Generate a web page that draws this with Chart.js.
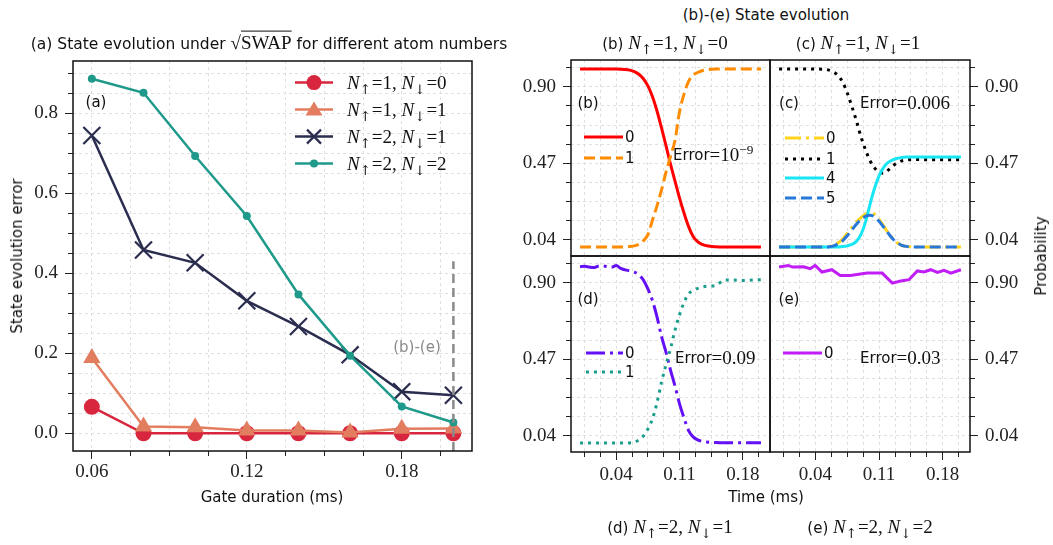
<!DOCTYPE html>
<html>
<head>
<meta charset="utf-8">
<script src="https://cdn.jsdelivr.net/npm/chart.js@4.4.1/dist/chart.umd.min.js"></script>
<style>
  body { margin: 0; background: #fff; }
  #page { position: relative; width: 1053px; height: 545px; overflow: hidden; background: #fff; }
  canvas { position: absolute; }
  .t { position: absolute; white-space: nowrap; transform: translate(-50%, -50%); font-family: 'DejaVu Sans', sans-serif; font-size: 15px; color: #111; line-height: 1.2; }
  .l { transform: translate(0, -50%); display: flex; align-items: center; }
  .rot { transform: translate(-50%, -50%) rotate(-90deg); }
  .m { font-family: 'Liberation Serif', serif; font-size: 19px; }
  .m sub { font-family: 'DejaVu Serif', serif; font-size: 0.7em; vertical-align: -0.35em; line-height: 0; margin-right: 1px; }
  .m sup { font-size: 0.7em; vertical-align: 0.5em; line-height: 0; }
  .ov { text-decoration: overline; }
  .gray { color: #8a8a8a; }
</style>
</head>
<body>
<div id="page">
  <canvas id="chartA" width="500" height="545" style="left:0;top:0"></canvas>
  <canvas id="chartB" width="330" height="260" style="left:470px;top:30px"></canvas>
  <canvas id="chartC" width="330" height="260" style="left:740px;top:30px"></canvas>
  <canvas id="chartD" width="330" height="289" style="left:470px;top:226px"></canvas>
  <canvas id="chartE" width="330" height="289" style="left:740px;top:226px"></canvas>

  <!-- titles and axis labels -->
  <div class="t" style="left:269px;top:43px;font-size:15.5px">(a) State evolution under <span class="m">√<span class="ov">SWAP</span></span> for different atom numbers</div>
  <div class="t" style="left:766px;top:15px">(b)-(e) State evolution</div>
  <div class="t" style="left:665px;top:43px">(b) <span class="m"><i>N</i><sub>↑</sub>=1, <i>N</i><sub>↓</sub>=0</span></div>
  <div class="t" style="left:858px;top:43px">(c) <span class="m"><i>N</i><sub>↑</sub>=1, <i>N</i><sub>↓</sub>=1</span></div>
  <div class="t" style="left:670px;top:527px">(d) <span class="m"><i>N</i><sub>↑</sub>=2, <i>N</i><sub>↓</sub>=1</span></div>
  <div class="t" style="left:870px;top:527px">(e) <span class="m"><i>N</i><sub>↑</sub>=2, <i>N</i><sub>↓</sub>=2</span></div>
  <div class="t" style="left:272px;top:497px">Gate duration (ms)</div>
  <div class="t" style="left:766px;top:497px">Time (ms)</div>
  <div class="t rot" style="left:17px;top:256px">State evolution error</div>
  <div class="t rot" style="left:1041px;top:256px">Probability</div>

  <!-- panel labels -->
  <div class="t" style="left:96px;top:102px">(a)</div>
  <div class="t gray" style="left:417px;top:347px">(b)-(e)</div>
  <div class="t" style="left:588px;top:103px">(b)</div>
  <div class="t" style="left:789px;top:103px">(c)</div>
  <div class="t" style="left:588px;top:299px">(d)</div>
  <div class="t" style="left:789px;top:299px">(e)</div>
  <div class="t l" style="left:673px;top:155px">Error<span class="m">=10<sup>−9</sup></span></div>
  <div class="t l" style="left:860px;top:103px">Error<span class="m">=0.006</span></div>
  <div class="t l" style="left:675px;top:358px">Error<span class="m">=0.09</span></div>
  <div class="t l" style="left:860px;top:358px">Error<span class="m">=0.03</span></div>

  <!-- legend (a) -->
  <div class="t l" style="left:293px;top:83px"><svg width="54" height="22"><line x1="2" y1="11" x2="40" y2="11" stroke="#d7263d" stroke-width="2.5"/><circle cx="21" cy="11" r="7.5" fill="#d7263d"/></svg><span class="m"><i>N</i><sub>↑</sub>=1, <i>N</i><sub>↓</sub>=0</span></div>
  <div class="t l" style="left:293px;top:110px"><svg width="54" height="22"><line x1="2" y1="11" x2="40" y2="11" stroke="#e27d60" stroke-width="2.5"/><polygon points="21,3 29.5,17 12.5,17" fill="#e27d60"/></svg><span class="m"><i>N</i><sub>↑</sub>=1, <i>N</i><sub>↓</sub>=1</span></div>
  <div class="t l" style="left:293px;top:137px"><svg width="54" height="22"><line x1="2" y1="11" x2="40" y2="11" stroke="#2b2d4f" stroke-width="2.5"/><path d="M14 4 L28 18 M14 18 L28 4" stroke="#2b2d4f" stroke-width="2.2"/></svg><span class="m"><i>N</i><sub>↑</sub>=2, <i>N</i><sub>↓</sub>=1</span></div>
  <div class="t l" style="left:293px;top:164px"><svg width="54" height="22"><line x1="2" y1="11" x2="40" y2="11" stroke="#1f9a8a" stroke-width="2.5"/><circle cx="21" cy="11" r="4" fill="#1f9a8a"/></svg><span class="m"><i>N</i><sub>↑</sub>=2, <i>N</i><sub>↓</sub>=2</span></div>

  <!-- legends (b)-(e) -->
  <div class="t l" style="left:584px;top:137px"><svg width="41" height="10"><line x1="0" y1="5" x2="39" y2="5" stroke="#ff0000" stroke-width="3"/></svg>0</div>
  <div class="t l" style="left:584px;top:158px"><svg width="41" height="10"><line x1="0" y1="5" x2="39" y2="5" stroke="#ff8c00" stroke-width="3" stroke-dasharray="11 5"/></svg>1</div>
  <div class="t l" style="left:785px;top:138px"><svg width="41" height="10"><line x1="0" y1="5" x2="39" y2="5" stroke="#ffd21e" stroke-width="3" stroke-dasharray="16 5 3 5"/></svg>0</div>
  <div class="t l" style="left:785px;top:159px"><svg width="41" height="10"><line x1="0" y1="5" x2="39" y2="5" stroke="#000" stroke-width="3" stroke-dasharray="3 5"/></svg>1</div>
  <div class="t l" style="left:785px;top:178px"><svg width="41" height="10"><line x1="0" y1="5" x2="39" y2="5" stroke="#18e6f5" stroke-width="3"/></svg>4</div>
  <div class="t l" style="left:785px;top:198px"><svg width="41" height="10"><line x1="0" y1="5" x2="39" y2="5" stroke="#2878dc" stroke-width="3" stroke-dasharray="11 5"/></svg>5</div>
  <div class="t l" style="left:586px;top:353px"><svg width="39" height="10"><line x1="0" y1="5" x2="37" y2="5" stroke="#6310f5" stroke-width="3" stroke-dasharray="19 5 3 5"/></svg>0</div>
  <div class="t l" style="left:586px;top:372px"><svg width="39" height="10"><line x1="0" y1="5" x2="37" y2="5" stroke="#1a9e8c" stroke-width="3" stroke-dasharray="3 5"/></svg>1</div>
  <div class="t l" style="left:783px;top:353px"><svg width="41" height="10"><line x1="0" y1="5" x2="39" y2="5" stroke="#c01ef5" stroke-width="3"/></svg>0</div>
</div>

<script>
// (a) error vs gate duration
const gateDur = [0.06, 0.08, 0.10, 0.12, 0.14, 0.16, 0.18, 0.20];
const err10 = [0.066, 0.0, 0.0, 0.0, 0.0, 0.0, 0.0, 0.0];
const err11 = [0.188, 0.017, 0.015, 0.007, 0.007, 0.002, 0.011, 0.012];
const err21 = [0.744, 0.458, 0.426, 0.331, 0.267, 0.196, 0.104, 0.095];
const err22 = [0.886, 0.851, 0.693, 0.543, 0.347, 0.194, 0.067, 0.027];
const markerX = 0.20;
const markerTop = 0.43;

// (b) N_up=1, N_down=0
const tB = [0, 0.02, 0.04, 0.05, 0.055, 0.06, 0.065, 0.07, 0.075, 0.08, 0.085, 0.09, 0.095, 0.1, 0.105, 0.11, 0.115, 0.12, 0.125, 0.13, 0.135, 0.14, 0.15, 0.17, 0.2];
const probB0 = [1.0, 1.0, 1.0, 0.997, 0.993, 0.985, 0.97, 0.945, 0.905, 0.845, 0.765, 0.67, 0.57, 0.465, 0.37, 0.275, 0.19, 0.115, 0.06, 0.03, 0.015, 0.007, 0.002, 0.0, 0.0];
const probB1 = [0.0, 0.0, 0.0, 0.001, 0.003, 0.007, 0.016, 0.035, 0.07, 0.15, 0.23, 0.32, 0.42, 0.51, 0.6, 0.76, 0.86, 0.93, 0.965, 0.98, 0.99, 0.995, 0.999, 1.0, 1.0];

// (c) N_up=1, N_down=1
const tC = [0, 0.03, 0.05, 0.055, 0.06, 0.065, 0.07, 0.075, 0.08, 0.085, 0.09, 0.095, 0.1, 0.105, 0.11, 0.115, 0.12, 0.125, 0.13, 0.135, 0.14, 0.15, 0.17, 0.2];
const probC0 = [0, 0, 0, 0.003, 0.01, 0.024, 0.045, 0.078, 0.11, 0.14, 0.165, 0.185, 0.195, 0.185, 0.155, 0.118, 0.08, 0.048, 0.024, 0.01, 0.004, 0.001, 0, 0];
const probC1 = [1.0, 1.0, 0.998, 0.993, 0.982, 0.962, 0.925, 0.865, 0.79, 0.71, 0.62, 0.547, 0.485, 0.445, 0.42, 0.415, 0.432, 0.455, 0.473, 0.484, 0.489, 0.491, 0.49, 0.49];
const probC4 = [0, 0, 0, 0, 0, 0.001, 0.003, 0.007, 0.015, 0.032, 0.07, 0.14, 0.24, 0.33, 0.4, 0.447, 0.475, 0.49, 0.498, 0.503, 0.505, 0.506, 0.506, 0.506];
const probC5 = [0, 0, 0, 0.002, 0.007, 0.018, 0.036, 0.064, 0.096, 0.128, 0.155, 0.172, 0.178, 0.17, 0.145, 0.112, 0.078, 0.047, 0.024, 0.01, 0.004, 0.001, 0, 0];

// (d) N_up=2, N_down=1
const tD = [0, 0.005, 0.01, 0.015, 0.02, 0.025, 0.03, 0.035, 0.04, 0.045, 0.05, 0.055, 0.06, 0.065, 0.07, 0.075, 0.08, 0.085, 0.09, 0.095, 0.1, 0.105, 0.11, 0.115, 0.12, 0.125, 0.13, 0.135, 0.14, 0.15, 0.16, 0.17, 0.18, 0.19, 0.2];
const probD0 = [0.99, 0.992, 0.988, 0.985, 0.993, 0.995, 0.99, 0.988, 0.996, 0.98, 0.972, 0.967, 0.96, 0.945, 0.915, 0.865, 0.8, 0.71, 0.6, 0.51, 0.41, 0.32, 0.22, 0.14, 0.07, 0.035, 0.018, 0.01, 0.006, 0.003, 0.002, 0.002, 0.002, 0.002, 0.002];
const probD1 = [0, 0, 0, 0, 0, 0, 0, 0, 0, 0, 0, 0.001, 0.005, 0.018, 0.04, 0.08, 0.135, 0.225, 0.34, 0.44, 0.53, 0.635, 0.72, 0.79, 0.838, 0.856, 0.868, 0.876, 0.88, 0.885, 0.915, 0.915, 0.913, 0.915, 0.917];

// (e) N_up=2, N_down=2
const tE = [0, 0.0102, 0.0147, 0.0268, 0.0342, 0.0397, 0.0471, 0.058, 0.0673, 0.0784, 0.0968, 0.1134, 0.1245, 0.1337, 0.1429, 0.152, 0.1594, 0.1668, 0.1742, 0.1815, 0.1889, 0.2];
const probE0 = [0.988, 0.997, 0.988, 0.99, 0.979, 0.997, 0.96, 0.973, 0.941, 0.941, 0.954, 0.954, 0.898, 0.91, 0.917, 0.966, 0.96, 0.973, 0.958, 0.97, 0.954, 0.973];

// ticks
const gateMajor = [0.06, 0.12, 0.18];
const errMajor = [0.0, 0.2, 0.4, 0.6, 0.8];
const timeMajor = [0.04, 0.11, 0.18];
const probMajor = [0.04, 0.47, 0.90];

const gridColor = '#d9d9d9';
const tickColor = '#222';
const numFont = { family: 'Liberation Serif', size: 19 };

function near(v, list) {
    return list.some((m) => Math.abs(m - v) < 1e-6);
}

// majors split into 4 minor steps
function subTicks(majors, before, after) {
    const step = (majors[1] - majors[0]) / 4;
    const out = [];
    for (let k = -before; k <= (majors.length - 1) * 4 + after; k++) out.push(majors[0] + k * step);
    return out;
}

const gateTicks = subTicks(gateMajor, 0, 1);
const errTicks = [];
for (let k = 0; k <= 18; k++) errTicks.push(k * 0.05);
const timeTicks = subTicks(timeMajor, 2, 1);
const probTicks = subTicks(probMajor, 0, 1);

// black box round each plot
const frame = {
    id: 'frame',
    afterDraw(chart) {
        const { ctx, chartArea: a } = chart;
        ctx.save();
        ctx.strokeStyle = '#111';
        ctx.lineWidth = 1.5;
        ctx.strokeRect(a.left, a.top, a.right - a.left, a.bottom - a.top);
        ctx.restore();
    },
};

// minor ticks are drawn shorter by dashing the tick line
function tickDash(majors, side) {
    return (c) => {
        if (!c.tick || near(c.tick.value, majors)) return [];
        return side === 'left' ? [0, 3, 5, 50] : [5, 50];
    };
}

function axis(opts) {
    const { min, max, ticks, majors, side, size, digits, showLabels, pad } = opts;
    const horizontal = side === 'bottom';
    return {
        type: 'linear',
        position: side,
        min,
        max,
        afterBuildTicks: (s) => { s.ticks = ticks.map((value) => ({ value })); },
        afterFit: (s) => { if (horizontal) s.height = size; else s.width = size; },
        ticks: {
            display: showLabels,
            autoSkip: false,
            maxRotation: 0,
            padding: pad,
            color: tickColor,
            font: numFont,
            callback: (v) => (near(v, majors) ? v.toFixed(digits) : ''),
        },
        grid: {
            color: gridColor,
            lineWidth: 0.8,
            drawTicks: showLabels,
            tickLength: 8,
            tickColor,
            tickWidth: 1,
            tickBorderDash: tickDash(majors, side),
        },
        border: { display: false, dash: [3, 3] },
    };
}

function errSeries(vals, color, style, radius, order) {
    return {
        data: gateDur.map((x, i) => ({ x, y: vals[i] })),
        borderColor: color,
        backgroundColor: color,
        borderWidth: 2.5,
        pointStyle: style,
        pointRadius: radius,
        pointBackgroundColor: color,
        pointBorderColor: color,
        pointBorderWidth: style === 'crossRot' ? 2.2 : 0,
        order,
    };
}

function curve(t, vals, color, dash, order, smooth = true) {
    return {
        data: t.map((x, i) => ({ x, y: vals[i] })),
        borderColor: color,
        borderWidth: 3,
        borderDash: dash,
        pointRadius: 0,
        tension: 0,
        cubicInterpolationMode: smooth ? 'monotone' : 'default',
        order,
    };
}

const baseOptions = {
    responsive: false,
    animation: false,
    events: [],
    plugins: { legend: { display: false }, tooltip: { enabled: false } },
};

// Panel (a)
new Chart(document.getElementById('chartA'), {
    type: 'line',
    data: {
        datasets: [
            {
                data: [{ x: markerX, y: -0.0443 }, { x: markerX, y: markerTop }],
                borderColor: '#8a8a8a',
                borderWidth: 2.5,
                borderDash: [9, 5],
                pointRadius: 0,
                order: 0,
            },
            errSeries(err22, '#1f9a8a', 'circle', 4, 1),
            errSeries(err21, '#2b2d4f', 'crossRot', 12, 2),
            errSeries(err11, '#e27d60', 'triangle', 10, 3),
            errSeries(err10, '#d7263d', 'circle', 8, 4),
        ],
    },
    options: {
        ...baseOptions,
        layout: { padding: { left: 0, top: 61, right: 28, bottom: 0 } },
        scales: {
            x: axis({ min: 0.0527, max: 0.2072, ticks: gateTicks, majors: gateMajor, side: 'bottom', size: 94, digits: 2, showLabels: true, pad: 2 }),
            y: axis({ min: -0.0443, max: 0.9303, ticks: errTicks, majors: errMajor, side: 'left', size: 73, digits: 1, showLabels: true, pad: 7 }),
        },
    },
    plugins: [frame],
});

// Panels (b)-(e)
function probPanel(id, datasets, ySide, showTime, pad, yW, xH) {
    new Chart(document.getElementById(id), {
        type: 'line',
        data: { datasets },
        options: {
            ...baseOptions,
            layout: { padding: pad },
            scales: {
                x: axis({ min: -0.01, max: 0.21, ticks: timeTicks, majors: timeMajor, side: 'bottom', size: xH, digits: 2, showLabels: showTime, pad: 4 }),
                y: axis({ min: -0.05, max: 1.05, ticks: probTicks, majors: probMajor, side: ySide, size: yW, digits: 2, showLabels: true, pad: 7 }),
            },
        },
        plugins: [frame],
    });
}

probPanel('chartB', [
    curve(tB, probB1, '#ff8c00', [11, 5], 1),
    curve(tB, probB0, '#ff0000', [], 2),
], 'left', false, { left: 0, top: 30, right: 30, bottom: 0 }, 101, 34);

probPanel('chartC', [
    curve(tC, probC5, '#2878dc', [11, 5], 1),
    curve(tC, probC4, '#18e6f5', [], 2),
    curve(tC, probC1, '#000000', [3, 5], 3),
    curve(tC, probC0, '#ffd21e', [16, 5, 3, 5], 4),
], 'right', false, { left: 30, top: 30, right: 0, bottom: 0 }, 100, 34);

probPanel('chartD', [
    curve(tD, probD1, '#1a9e8c', [3, 5], 1),
    curve(tD, probD0, '#6310f5', [19, 5, 3, 5], 2),
], 'left', true, { left: 0, top: 30, right: 30, bottom: 0 }, 101, 63);

probPanel('chartE', [
    curve(tE, probE0, '#c01ef5', [], 1, false),
], 'right', true, { left: 30, top: 30, right: 0, bottom: 0 }, 100, 63);
</script>
</body>
</html>
